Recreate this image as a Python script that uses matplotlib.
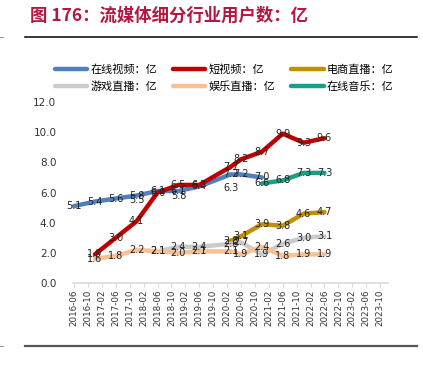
import numpy as np
import matplotlib
matplotlib.use('Agg')
import matplotlib.pyplot as plt
from matplotlib.lines import Line2D

plt.rcParams['font.family'] = ['Noto Sans CJK SC', 'DejaVu Sans']

# 数据日期（半年度 + 2020-03）
dates = ['2016-06', '2016-12', '2017-06', '2017-12', '2018-06', '2018-12', '2019-06',
         '2020-03', '2020-06', '2020-12', '2021-06', '2021-12', '2022-06']

nan = np.nan
online_video = [5.1, 5.4, 5.6, 5.8, 6.1, 6.1, 6.4, 7.2, 7.2, 7.0, nan, nan, nan]
short_video = [nan, 1.9, 3.0, 4.1, 6.0, 6.5, 6.5, 7.7, 8.2, 8.7, 9.9, 9.3, 9.6]
ecommerce_live = [nan, nan, nan, nan, nan, nan, nan, 2.8, 3.1, 3.9, 3.8, 4.6, 4.7]
game_live = [nan, nan, nan, nan, 2.1, 2.4, 2.4, 2.6, 2.7, 1.9, 2.6, 3.0, 3.1]
ent_live = [nan, 1.6, 1.8, 2.2, 2.1, 2.0, 2.1, 2.1, 1.9, 2.4, 1.8, 1.9, 1.9]
online_music = [nan, nan, nan, nan, nan, nan, nan, nan, nan, 6.6, 6.8, 7.3, 7.3]
# 只有数据标签、没有线的系列
label_only = [nan, nan, nan, 5.5, nan, 5.8, nan, 6.3, nan, nan, nan, nan, nan]

tick_labels = ['2016-06', '2016-10', '2017-02', '2017-06', '2017-10', '2018-02',
               '2018-06', '2018-10', '2019-02', '2019-06', '2019-10', '2020-02',
               '2020-06', '2020-10', '2021-02', '2021-06', '2021-10', '2022-02',
               '2022-06', '2022-10', '2023-02', '2023-06', '2023-10']

series = [
    ('在线视频：亿', online_video, '#4F81BD'),
    ('短视频：亿', short_video, '#C00000'),
    ('电商直播：亿', ecommerce_live, '#BF9000'),
    ('游戏直播：亿', game_live, '#CBCBCB'),
    ('娱乐直播：亿', ent_live, '#F8C194'),
    ('在线音乐：亿', online_music, '#1B9E85'),
]


def month_index(s):
    y, m = s.split('-')
    return (int(y) - 2016) * 12 + int(m) - 6


x = np.array([month_index(d) for d in dates])
tick_pos = [month_index(t) for t in tick_labels]

fig = plt.figure(figsize=(4.23, 3.72), dpi=100)
ax = fig.add_axes([0.1726, 0.2392, 0.745, 0.4866])

handles = []
for name, vals, color in series:
    line, = ax.plot(x, vals, color=color, lw=3.2, solid_capstyle='round',
                    solid_joinstyle='round', label=name, clip_on=False)
    handles.append(line)

# 数据标签
for _, vals, _ in series + [('', label_only, '')]:
    for xi, v in zip(x, vals):
        if not np.isnan(v):
            ax.text(xi, v, f'{v:.1f}', ha='center', va='center', fontsize=7,
                    color='#222222', family='DejaVu Sans', zorder=5)

ax.set_xlim(-0.3, 90.3)
ax.set_ylim(0, 12)
ax.set_yticks(np.arange(0, 12.1, 2))
ax.set_yticklabels([f'{v:.1f}' for v in np.arange(0, 12.1, 2)],
                   family='DejaVu Sans', fontsize=7.5, color='#333333')
ax.set_xticks(tick_pos)
ax.set_xticklabels(tick_labels, rotation=90, family='DejaVu Sans',
                   fontsize=6.3, color='#333333')

for s in ['top', 'right', 'left']:
    ax.spines[s].set_visible(False)
ax.spines['bottom'].set_color('#D9D9D9')
ax.spines['bottom'].set_linewidth(1.2)
ax.tick_params(axis='y', length=0, pad=12)
ax.tick_params(axis='x', length=3, color='#D9D9D9', pad=2)

# 图例：按行排列，需按列顺序传入
order = [0, 3, 1, 4, 2, 5]
fig.legend([handles[i] for i in order], [series[i][0] for i in order],
           ncol=3, loc='center', bbox_to_anchor=(0.53, 0.79), frameon=False,
           fontsize=8, handlelength=2.9, handletextpad=0.3,
           columnspacing=1.45, labelspacing=0.6)

# 标题与分隔线
fig.text(0.071, 0.957, '图 176：流媒体细分行业用户数：亿', fontsize=12.5,
         fontweight='bold', color='#B4173F', va='center', ha='left')
fig.add_artist(Line2D([25 / 423, 417 / 423], [0.9005, 0.9005], color='black', lw=1.1))
fig.add_artist(Line2D([25 / 423, 417 / 423], [0.07, 0.07], color='#555555', lw=1.6))
fig.add_artist(Line2D([0, 3 / 423], [0.9005, 0.9005], color='#999999', lw=0.8))
fig.add_artist(Line2D([0, 3 / 423], [0.07, 0.07], color='#999999', lw=0.8))

plt.savefig('out.png', dpi=100, facecolor='white')
